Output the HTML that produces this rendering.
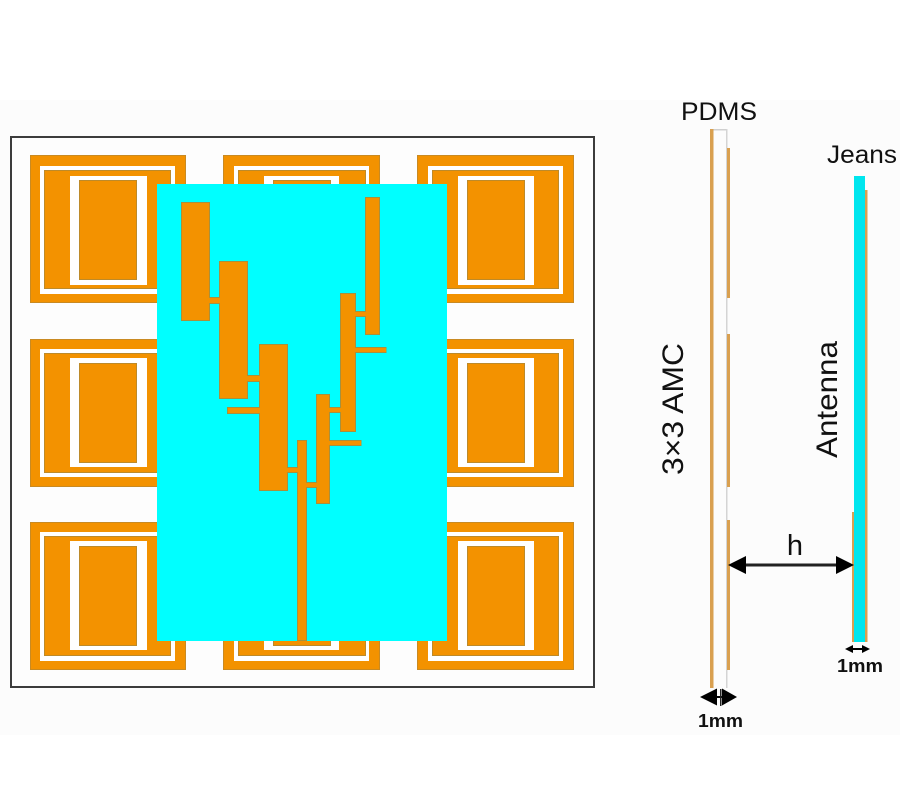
<!DOCTYPE html>
<html><head><meta charset="utf-8"><style>
html,body{margin:0;padding:0;background:#fff}
svg{display:block;filter:blur(.35px)}
text{font-family:"Liberation Sans",sans-serif;fill:#111}
.o{fill:#f39200}
.oe{fill:#f39200;stroke:#c98a22;stroke-width:1}
.w{fill:#fff}
.e{fill:#f39200;stroke:#bd8a2a;stroke-width:1}
.a{fill:#f39200;stroke:#a8903c;stroke-width:1}
.s{fill:#d9a050}
</style></head><body>
<svg width="900" height="800" viewBox="0 0 900 800" xmlns="http://www.w3.org/2000/svg">
<rect width="900" height="800" fill="#fff"/>
<rect x="0" y="100" width="900" height="635" fill="#fcfcfc"/>
<rect x="11" y="137" width="583" height="550" fill="#fdfdfd" stroke="#3c3c3c" stroke-width="2"/>

<!-- top row -->
<g>
<rect class="oe" x="30.500" y="155.500" width="155" height="147"/><rect class="w" x="40" y="166" width="135" height="128"/><rect class="e" x="44.500" y="170.500" width="126" height="118"/><rect class="w" x="70" y="176" width="77" height="109"/><rect class="e" x="79.500" y="180.500" width="57" height="99"/>
<rect class="oe" x="223.500" y="155.500" width="156" height="147"/><rect class="w" x="234" y="166" width="135" height="128"/><rect class="e" x="238.500" y="170.500" width="127" height="118"/><rect class="w" x="264" y="176" width="75" height="109"/><rect class="e" x="273.500" y="180.500" width="57" height="99"/>
<rect class="oe" x="417.500" y="155.500" width="156" height="147"/><rect class="w" x="428" y="166" width="135" height="128"/><rect class="e" x="432.500" y="170.500" width="126" height="118"/><rect class="w" x="458" y="176" width="76" height="109"/><rect class="e" x="467.500" y="180.500" width="57" height="99"/>
</g>
<!-- middle row -->
<g>
<rect class="oe" x="30.500" y="339.500" width="155" height="147"/><rect class="w" x="40" y="349" width="135" height="128"/><rect class="e" x="44.500" y="353.500" width="126" height="119"/><rect class="w" x="70" y="358" width="77" height="109"/><rect class="e" x="79.500" y="363.500" width="57" height="99"/>
<rect class="oe" x="417.500" y="339.500" width="156" height="147"/><rect class="w" x="428" y="349" width="135" height="128"/><rect class="e" x="432.500" y="353.500" width="126" height="119"/><rect class="w" x="458" y="358" width="76" height="109"/><rect class="e" x="467.500" y="363.500" width="57" height="99"/>
</g>
<!-- bottom row -->
<g>
<rect class="oe" x="30.500" y="522.500" width="155" height="147"/><rect class="w" x="40" y="532" width="135" height="129"/><rect class="e" x="44.500" y="536.500" width="126" height="119"/><rect class="w" x="70" y="541" width="77" height="109"/><rect class="e" x="79.500" y="546.500" width="57" height="99"/>
<rect class="oe" x="223.500" y="522.500" width="156" height="147"/><rect class="w" x="234" y="532" width="135" height="129"/><rect class="e" x="238.500" y="536.500" width="127" height="119"/><rect class="w" x="264" y="541" width="75" height="109"/><rect class="e" x="273.500" y="546.500" width="57" height="99"/>
<rect class="oe" x="417.500" y="522.500" width="156" height="147"/><rect class="w" x="428" y="532" width="135" height="129"/><rect class="e" x="432.500" y="536.500" width="126" height="119"/><rect class="w" x="458" y="541" width="76" height="109"/><rect class="e" x="467.500" y="546.500" width="57" height="99"/>
</g>

<!-- antenna substrate -->
<rect x="157" y="184" width="290" height="457" fill="#00ffff"/>

<!-- antenna patches -->
<g>
<rect class="a" x="181.500" y="202.500" width="28" height="118"/>
<rect class="a" x="219.500" y="261.500" width="28" height="137"/>
<rect class="a" x="259.500" y="344.500" width="28" height="146"/>
<rect class="a" x="365.500" y="197.500" width="14" height="137"/>
<rect class="a" x="340.500" y="293.500" width="15" height="138"/>
<rect class="a" x="316.500" y="394.500" width="13" height="109"/>
<rect class="a" x="297.500" y="440.500" width="9" height="200"/>
<rect class="a" x="209" y="297.500" width="11" height="6"/>
<rect class="a" x="247" y="375.500" width="13" height="6"/>
<rect class="a" x="227.500" y="407.500" width="33" height="6"/>
<rect class="a" x="355" y="311.500" width="11" height="5"/>
<rect class="a" x="355" y="347.500" width="31" height="5"/>
<rect class="a" x="329" y="407.500" width="12" height="5"/>
<rect class="a" x="329" y="440.500" width="32" height="5"/>
<rect class="a" x="287" y="467.500" width="11" height="5"/>
<rect class="a" x="306" y="482.500" width="11" height="5"/>
</g>
<g>
<rect class="o" x="182" y="203" width="27" height="117"/>
<rect class="o" x="220" y="262" width="27" height="136"/>
<rect class="o" x="260" y="345" width="27" height="145"/>
<rect class="o" x="366" y="198" width="13" height="136"/>
<rect class="o" x="341" y="294" width="14" height="137"/>
<rect class="o" x="317" y="395" width="12" height="108"/>
<rect class="o" x="298" y="441" width="8" height="199"/>
<rect class="o" x="207" y="298" width="15" height="5"/>
<rect class="o" x="245" y="376" width="17" height="5"/>
<rect class="o" x="228" y="408" width="34" height="5"/>
<rect class="o" x="353" y="312" width="15" height="4"/>
<rect class="o" x="353" y="348" width="33" height="4"/>
<rect class="o" x="327" y="408" width="16" height="4"/>
<rect class="o" x="327" y="441" width="34" height="4"/>
<rect class="o" x="285" y="468" width="15" height="4"/>
<rect class="o" x="304" y="483" width="15" height="4"/>
</g>

<!-- AMC side view -->
<rect x="711" y="129" width="16" height="1.500" fill="#cfcfcf"/>
<rect x="726" y="129" width="1.500" height="559" fill="#d4d4d4"/>
<rect class="s" x="710" y="129" width="3.500" height="559"/>
<rect class="s" x="727" y="148" width="3" height="150"/>
<rect class="s" x="727" y="334" width="3" height="153"/>
<rect class="s" x="727" y="520" width="3" height="150"/>

<!-- antenna side view -->
<rect x="854" y="176" width="11" height="466" fill="#00e6ee"/>
<rect class="s" x="865" y="190" width="2.500" height="452"/>
<rect class="s" x="852" y="512" width="2" height="130"/>

<!-- h arrow -->
<rect x="744" y="563.500" width="94" height="3" fill="#222"/>
<polygon points="728,565 746,556 746,574" fill="#000"/>
<polygon points="854,565 836,556 836,574" fill="#000"/>

<!-- 1mm arrows -->
<polygon points="700,697 717,688.500 717,705.500" fill="#000"/>
<polygon points="737,697 722,688.500 722,705.500" fill="#000"/>
<rect x="717" y="696" width="5" height="2" fill="#000"/>
<rect x="720" y="689" width="1.500" height="17" fill="#222"/>
<polygon points="845,649 853,645 853,653" fill="#000"/>
<polygon points="870,649 862,645 862,653" fill="#000"/>
<rect x="853" y="648" width="9" height="2" fill="#000"/>

<!-- labels -->
<text x="681" y="120" font-size="25" textLength="76" lengthAdjust="spacingAndGlyphs">PDMS</text>
<text x="827" y="163" font-size="25" textLength="70" lengthAdjust="spacingAndGlyphs">Jeans</text>
<text x="795" y="555" font-size="29" text-anchor="middle">h</text>
<text x="698" y="727" font-size="18" font-weight="bold" textLength="45" lengthAdjust="spacingAndGlyphs">1mm</text>
<text x="837" y="672" font-size="18" font-weight="bold" textLength="46" lengthAdjust="spacingAndGlyphs">1mm</text>
<text transform="translate(683,475) rotate(-90)" font-size="30" textLength="132" lengthAdjust="spacingAndGlyphs">3×3 AMC</text>
<text transform="translate(837,458) rotate(-90)" font-size="30" textLength="117" lengthAdjust="spacingAndGlyphs">Antenna</text>
</svg>
</body></html>
